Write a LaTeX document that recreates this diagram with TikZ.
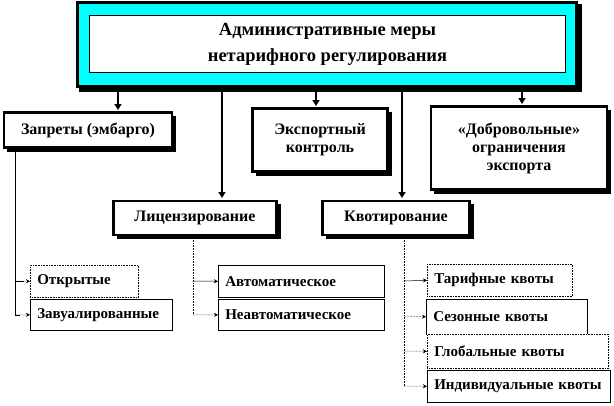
\documentclass[tikz,border=0pt]{standalone}
\usepackage{fontspec}
\setmainfont{Liberation Serif}
\usetikzlibrary{arrows.meta}
\definecolor{aqua}{RGB}{0,255,255}
\begin{document}
\begin{tikzpicture}[x=1pt,y=-1pt,
  box/.style={draw,line width=2.2pt,fill=white,font=\bfseries\fontsize{16}{18}\selectfont,align=center,inner sep=0pt},
  sbox/.style={draw,line width=0.6pt,fill=white,font=\bfseries\fontsize{15}{16}\selectfont,align=left,inner sep=0pt},
  big/.style={-{Triangle[length=6pt,width=7pt]},line width=2.5pt,shorten >=0pt},
  sm/.style={-{Stealth[length=4pt,width=4pt]},line width=0.5pt},
  smd/.style={sm,densely dotted}]
\useasboundingbox (0,0) rectangle (614,405);
% top
\fill (79,4) rectangle (582,92);
\node[draw,line width=3pt,fill=aqua,minimum width=499pt,minimum height=84pt,anchor=north west] (top) at (76,1) {};
\node[draw,line width=0.6pt,fill=white,minimum width=476pt,minimum height=57pt,font=\bfseries\fontsize{18.5}{26}\selectfont,align=center] (topin) at (327.5,44) {Административные меры\\нетарифного регулирования};
% second row
\fill (7,116) rectangle (176,152);
\node[box,minimum width=168pt,minimum height=35pt] (zap) at (88,130) {Запреты (эмбарго)};
\fill (256,112) rectangle (392,176);
\node[box,minimum width=135pt,minimum height=63pt] (exp) at (320,140) {Экспортный\\контроль};
\fill (434,110) rectangle (611,194);
\node[box,minimum width=176pt,minimum height=83pt] (dob) at (519,148) {«Добровольные»\\ограничения\\экспорта};
\fill (117,204) rectangle (281,239);
\node[box,minimum width=163pt,minimum height=34pt] (lic) at (195,218) {Лицензирование};
\fill (326,204) rectangle (474,239);
\node[box,minimum width=147pt,minimum height=34pt] (kvo) at (396,218) {Квотирование};
% arrows
\draw[big] (118,88) -- (118,110);
\draw[big] (222,88) -- (222,198);
\draw[big] (316,88) -- (316,106);
\draw[big] (402,88) -- (402,198);
\draw[big] (522,88) -- (522,104);
% small boxes
\node[sbox,minimum width=108pt,minimum height=32pt,text width=94pt,anchor=north west,inner xsep=7pt,densely dotted] (otk) at (30,265) {Открытые};
\node[sbox,minimum width=142pt,minimum height=31pt,text width=128pt,anchor=north west,inner xsep=7pt] (zav) at (30,299) {Завуалированные};
\node[sbox,minimum width=166pt,minimum height=32pt,text width=152pt,anchor=north west,inner xsep=7pt] (avt) at (218,265) {Автоматическое};
\node[sbox,minimum width=166pt,minimum height=31pt,text width=152pt,anchor=north west,inner xsep=7pt] (neavt) at (218,299) {Неавтоматическое};
\node[sbox,minimum width=145pt,minimum height=32pt,text width=131pt,anchor=north west,inner xsep=7pt,densely dotted] (tar) at (427,264) {Тарифные квоты};
\node[sbox,minimum width=161pt,minimum height=35pt,text width=147pt,anchor=north west,inner xsep=7pt] (sez) at (426,299) {Сезонные квоты};
\node[sbox,minimum width=181pt,minimum height=34pt,text width=167pt,anchor=north west,inner xsep=7pt,densely dotted] (glo) at (427,334) {Глобальные квоты};
\node[sbox,minimum width=183pt,minimum height=32pt,text width=169pt,anchor=north west,inner xsep=7pt] (ind) at (427,370) {Индивидуальные квоты};
% branches
\draw[line width=0.5pt] (15,148) |- (24,281);
\draw[smd] (15,281) -- (otk.west);
\draw[line width=0.5pt] (15,281) |- (20,315);
\draw[smd] (15,315) -- (zav.west);
\draw[densely dotted,line width=0.6pt] (193,235) -- (193,315);
\draw[sm] (193,281) -- (avt.west);
\draw[smd] (193,315) -- (neavt.west);
\draw[densely dotted,line width=0.6pt] (404,235) -- (404,386);
\draw[sm] (404,281) -- (tar.west);
\draw[smd] (404,316) -- (sez.west);
\draw[smd] (404,351) -- (glo.west);
\draw[smd] (404,386) -- (ind.west);
\end{tikzpicture}
\end{document}
